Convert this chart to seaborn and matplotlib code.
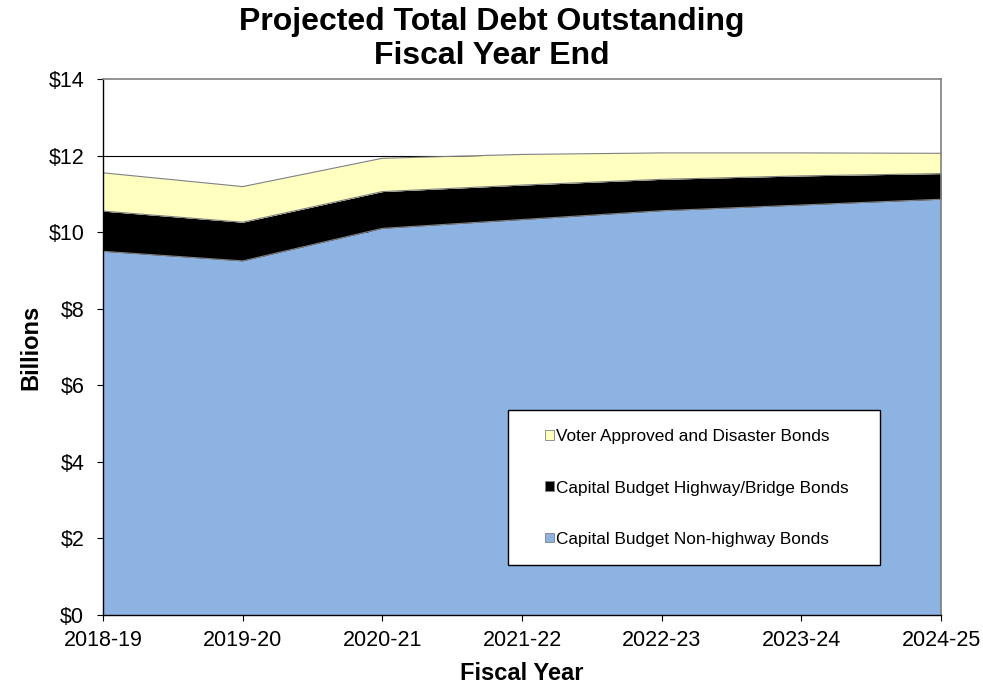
import numpy as np
import pandas as pd
import matplotlib
matplotlib.use("Agg")
import matplotlib.pyplot as plt
import seaborn as sns
from matplotlib.patches import Patch, Rectangle

# Data (billions of dollars)
fiscal_years = ["2018-19", "2019-20", "2020-21", "2021-22", "2022-23", "2023-24", "2024-25"]
non_highway = [9.50, 9.25, 10.10, 10.33, 10.56, 10.71, 10.86]
highway_bridge = [1.05, 1.01, 0.96, 0.90, 0.82, 0.76, 0.67]
voter_disaster = [1.00, 0.93, 0.87, 0.80, 0.69, 0.60, 0.53]

series_names = ["Capital Budget Non-highway Bonds",
                "Capital Budget Highway/Bridge Bonds",
                "Voter Approved and Disaster Bonds"]
series_colors = ["#8DB3E2", "#000000", "#FFFFC0"]

sns.set_style("white")
plt.rcParams['font.family'] = ['Liberation Sans', 'DejaVu Sans']
plt.rcParams['text.color'] = 'black'
plt.rcParams['axes.labelcolor'] = 'black'
plt.rcParams['xtick.color'] = 'black'
plt.rcParams['ytick.color'] = 'black'

df = pd.DataFrame({
    "x": np.arange(len(fiscal_years)),
    series_names[0]: non_highway,
    series_names[1]: highway_bridge,
    series_names[2]: voter_disaster,
})

fig = plt.figure(figsize=(9.83, 6.86), dpi=100)
ax = fig.add_axes([0.1048, 0.1035, 0.8525, 0.7813])

# gridlines behind the areas
for g in range(2, 14, 2):
    ax.axhline(g, color="black", lw=0.8, zorder=0)

# stacked areas
bottom = np.zeros(len(fiscal_years))
for name, color in zip(series_names, series_colors):
    top = bottom + df[name].values
    ax.fill_between(df["x"], bottom, top, color=color, lw=0, zorder=1)
    edge = pd.DataFrame({"x": df["x"], "y": top})
    sns.lineplot(data=edge, x="x", y="y", ax=ax, color="#808080", lw=0.8, zorder=2)
    bottom = top

ax.set_xlim(0, len(fiscal_years) - 1)
ax.set_ylim(0, 14)
ax.set_xticks(df["x"])
ax.set_xticklabels(fiscal_years, fontsize=15.5)
ax.set_yticks(range(0, 15, 2))
ax.set_yticklabels([f"${v}" for v in range(0, 15, 2)], fontsize=15.5)
ax.tick_params(axis="both", direction="out", length=4.5, width=0.8, color="black",
               left=True, bottom=True)
ax.tick_params(axis="y", pad=9)
ax.tick_params(axis="x", pad=6)

for side in ["left", "bottom"]:
    ax.spines[side].set_color("black")
    ax.spines[side].set_linewidth(1.0)
for side in ["top", "right"]:
    ax.spines[side].set_color("#808080")
    ax.spines[side].set_linewidth(1.2)
for s in ax.spines.values():
    s.set_zorder(5)

ax.set_xlabel("Fiscal Year", fontsize=17, fontweight="bold", labelpad=8)
ax.set_ylabel("Billions", fontsize=17, fontweight="bold", labelpad=4.5)
fig.suptitle("Projected Total Debt Outstanding\nFiscal Year End", fontsize=23,
             fontweight="bold", y=0.99, linespacing=1.17)

# legend box
frame = Rectangle((508 / 983, (686 - 565) / 686), 372 / 983, 155 / 686,
                  transform=fig.transFigure, facecolor="white", edgecolor="black",
                  lw=1.0, zorder=6)
fig.add_artist(frame)
handles = [Patch(facecolor=c, edgecolor="#808080", lw=0.6) for c in series_colors]
leg = fig.legend(handles[::-1], series_names[::-1], loc="center left",
                 bbox_to_anchor=(545 / 983, (686 - 488) / 686), frameon=False,
                 fontsize=12.4, borderpad=0, borderaxespad=0,
                 handlelength=0.5, handleheight=0.5, handletextpad=0.15, labelspacing=2.1)
leg.set_zorder(7)

fig.savefig("out.png", dpi=100)
